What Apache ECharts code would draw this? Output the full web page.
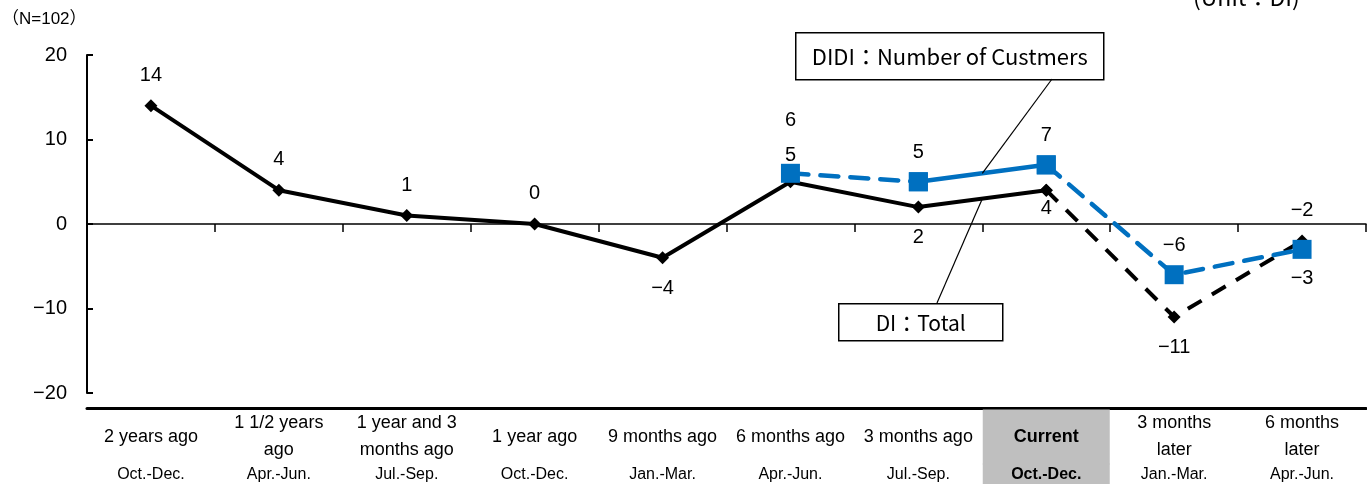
<!DOCTYPE html>
<html>
<head>
<meta charset="utf-8">
<script src="https://cdn.jsdelivr.net/npm/echarts@6/dist/echarts.min.js"></script>
<style>
  html, body { margin: 0; padding: 0; background: #fff; }
  #chart { width: 1367px; height: 484px; }
</style>
</head>
<body>
<div id="chart"></div>
<script>
// Period names (main line) and quarter names (second line) for each column
const periods = ['2 years ago', '1 1/2 years\nago', '1 year and 3\nmonths ago', '1 year ago', '9 months ago',
                 '6 months ago', '3 months ago', 'Current', '3 months\nlater', '6 months\nlater'];
const quarters = ['Oct.-Dec.', 'Apr.-Jun.', 'Jul.-Sep.', 'Oct.-Dec.', 'Jan.-Mar.',
                  'Apr.-Jun.', 'Jul.-Sep.', 'Oct.-Dec.', 'Jan.-Mar.', 'Apr.-Jun.'];
const currentIndex = 7;

// DI values
const diTotal = [14, 4, 1, 0, -4, 5, 2, 4, -11, -2];
const diCustomers = [null, null, null, null, null, 6, 5, 7, -6, -3];

// Value axis
const yMin = -20, yMax = 20, yStep = 10;

const FONT = '"Liberation Sans", "Noto Sans CJK JP", sans-serif';
const BOX_FONT = '"Noto Sans CJK JP", "Noto Sans", sans-serif';
const BLUE = '#0070C0';

const fmtNum = v => String(v).replace('-', '\u2212');

// Keep only the points between two indexes so one line can be split into solid / dashed parts
function segment(values, from, to) {
  return values.map((v, i) => (i >= from && i <= to && v !== null) ? v : '-');
}

// Label placement for each point
const totalLabelPos = ['top', 'top', 'top', 'top', 'bottom', 'top', 'bottom', 'bottom', 'bottom', 'top'];
const totalLabelOffset = { 5: [0, 4], 7: [0, -12] };
const customerLabelPos = { 5: 'top', 6: 'top', 7: 'top', 8: 'top', 9: 'bottom' };
const customerLabelOffset = { 5: [0, -23] };

function withLabels(values, shown, posOf, offsetOf) {
  return values.map((v, i) => {
    if (v === '-') return '-';
    const show = shown.indexOf(i) >= 0;
    return {
      value: v,
      label: show ? { show: true, position: posOf(i), offset: offsetOf[i] || [0, 0] } : { show: false }
    };
  });
}

const numLabel = {
  color: '#000', fontFamily: FONT, fontSize: 20, distance: 14,
  formatter: p => fmtNum(p.value)
};

const blackLine = (type) => ({
  type: 'line', xAxisIndex: 0, yAxisIndex: 0,
  symbol: 'diamond', symbolSize: 13, z: 2,
  itemStyle: { color: '#000' },
  lineStyle: { color: '#000', width: 4, type: type },
  label: numLabel, animation: false
});
const blueLine = (type) => ({
  type: 'line', xAxisIndex: 0, yAxisIndex: 0,
  symbol: 'rect', symbolSize: 19, z: 3,
  itemStyle: { color: BLUE },
  lineStyle: { color: BLUE, width: 4.5, type: type, cap: 'round' },
  label: Object.assign({}, numLabel, { distance: 10 }), animation: false
});

const series = [
  Object.assign(blackLine('solid'), {
    name: 'DI：Total',
    data: withLabels(segment(diTotal, 0, 7), [0, 1, 2, 3, 4, 5, 6, 7], i => totalLabelPos[i], totalLabelOffset)
  }),
  Object.assign(blackLine([16, 12]), {
    name: 'DI：Total (forecast)',
    data: withLabels(segment(diTotal, 7, 9), [8, 9], i => totalLabelPos[i], totalLabelOffset)
  }),
  Object.assign(blueLine([18, 12]), {
    name: 'DI：Number of Customers (a)',
    data: withLabels(segment(diCustomers, 5, 6), [5, 6], i => customerLabelPos[i], customerLabelOffset)
  }),
  Object.assign(blueLine('solid'), {
    name: 'DI：Number of Customers (b)',
    data: withLabels(segment(diCustomers, 6, 7), [], i => customerLabelPos[i], customerLabelOffset)
  }),
  Object.assign(blueLine([18, 12]), {
    name: 'DI：Number of Customers (c)',
    data: withLabels(segment(diCustomers, 7, 9), [7, 8, 9], i => customerLabelPos[i], customerLabelOffset)
  })
];

// Bottom category label: period name block of fixed height, then quarter name
function categoryLabel(value, index) {
  const lines = periods[index].split('\n');
  const cur = index === currentIndex;
  const main = lines.length === 1
    ? `{${cur ? 'cm' : 'm'}|${lines[0]}}`
    : lines.map(l => `{m2|${l}}`).join('\n');
  return main + `\n{${cur ? 'cs' : 's'}|${quarters[index]}}`;
}

const chart = echarts.init(document.getElementById('chart'), null, { renderer: 'canvas' });

chart.setOption({
  backgroundColor: '#fff',
  animation: false,
  grid: { left: 87, right: 1, top: 55, bottom: 91, containLabel: false, outerBoundsMode: 'none' },
  xAxis: [
    {
      type: 'category', data: periods, position: 'top',
      axisLine: { onZero: true, lineStyle: { color: '#000', width: 1.5 } },
      axisTick: { show: true, inside: true, length: 8, interval: 0, lineStyle: { color: '#000', width: 1.5 } },
      axisLabel: { show: false },
      splitLine: { show: false }
    },
    {
      type: 'category', data: periods, position: 'bottom', offset: 15,
      axisLine: { onZero: false, lineStyle: { color: '#000', width: 3 } },
      axisTick: { show: false },
      axisLabel: {
        interval: 0, margin: 2, color: '#000', fontFamily: FONT,
        formatter: categoryLabel,
        rich: {
          m:  { fontFamily: FONT, fontSize: 18, height: 54, lineHeight: 54, color: '#000' },
          m2: { fontFamily: FONT, fontSize: 18, height: 27, lineHeight: 27, color: '#000' },
          s:  { fontFamily: FONT, fontSize: 16, height: 22, lineHeight: 22, color: '#000' },
          cm: { fontFamily: FONT, fontSize: 18, fontWeight: 'bold', height: 55, lineHeight: 54, width: 127,
                align: 'center', backgroundColor: '#bfbfbf', color: '#000' },
          cs: { fontFamily: FONT, fontSize: 16, fontWeight: 'bold', height: 23, lineHeight: 22, width: 127,
                align: 'center', backgroundColor: '#bfbfbf', color: '#000' }
        }
      },
      splitLine: { show: false }
    }
  ],
  yAxis: {
    type: 'value', min: yMin, max: yMax, interval: yStep,
    axisLine: { show: true, onZero: false, lineStyle: { color: '#000', width: 2 } },
    axisTick: { show: true, inside: true, length: 6, lineStyle: { color: '#000', width: 2 } },
    axisLabel: { color: '#000', fontFamily: FONT, fontSize: 20, margin: 20, formatter: fmtNum },
    splitLine: { show: false }
  },
  series: series
});

// Callout boxes naming the two lines, with leader lines to the middle of the Jul.-Sep. → Current segment
function midPixel(values, i) {
  const a = chart.convertToPixel({ xAxisIndex: 0, yAxisIndex: 0 }, [i, values[i]]);
  const b = chart.convertToPixel({ xAxisIndex: 0, yAxisIndex: 0 }, [i + 1, values[i + 1]]);
  return [(a[0] + b[0]) / 2, (a[1] + b[1]) / 2];
}
const custMid = midPixel(diCustomers, 6);
const totalMid = midPixel(diTotal, 6);

chart.setOption({
  graphic: [
    { type: 'text', left: 2, top: 11, style: { text: '（N=102）', font: `17px ${FONT}`, fill: '#000' } },
    { type: 'text', left: 1193, top: -14, style: { text: '(Unit：DI)', font: `23px ${BOX_FONT}`, fill: '#000' } },
    { type: 'line', shape: { x1: 1052, y1: 79, x2: custMid[0], y2: custMid[1] }, style: { stroke: '#000', lineWidth: 1.2 }, z: 10 },
    { type: 'line', shape: { x1: 937, y1: 303, x2: totalMid[0], y2: totalMid[1] }, style: { stroke: '#000', lineWidth: 1.2 }, z: 10 },
    {
      type: 'group', left: 795, top: 32, z: 11,
      children: [
        { type: 'rect', shape: { x: 0, y: 0, width: 308, height: 47 }, style: { fill: '#fff', stroke: '#000', lineWidth: 1.5 } },
        { type: 'text', x: 154, y: 24, style: { text: 'DIDI：Number of Custmers', font: `22px ${BOX_FONT}`, fill: '#000', textAlign: 'center', textVerticalAlign: 'middle' } }
      ]
    },
    {
      type: 'group', left: 838, top: 303, z: 11,
      children: [
        { type: 'rect', shape: { x: 0, y: 0, width: 164, height: 37 }, style: { fill: '#fff', stroke: '#000', lineWidth: 1.5 } },
        { type: 'text', x: 82, y: 19, style: { text: 'DI：Total', font: `21px ${BOX_FONT}`, fill: '#000', textAlign: 'center', textVerticalAlign: 'middle' } }
      ]
    }
  ]
});
</script>
</body>
</html>
